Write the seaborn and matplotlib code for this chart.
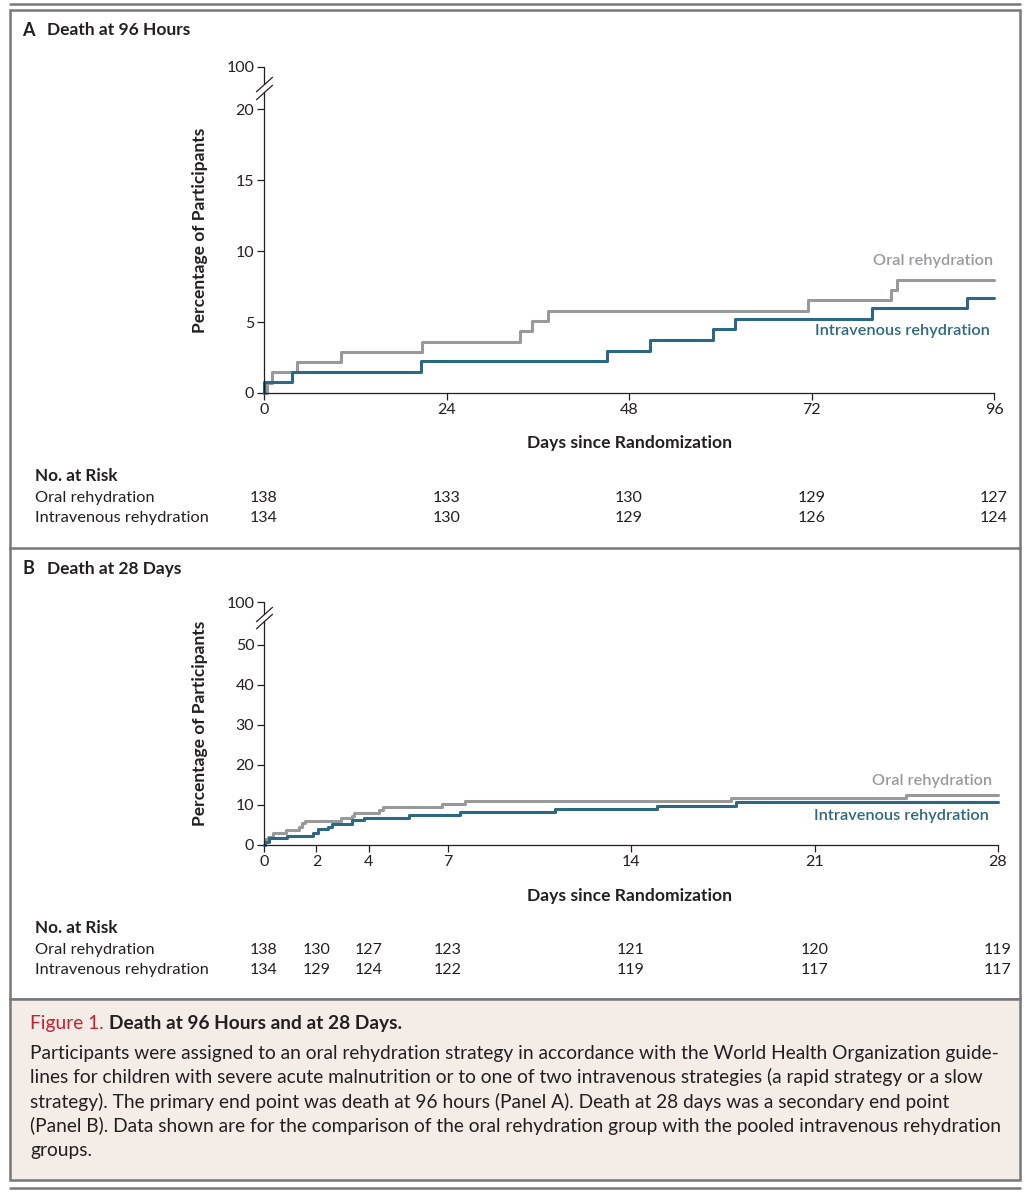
import matplotlib
matplotlib.use("Agg")
import matplotlib.pyplot as plt
import matplotlib.transforms as mtransforms
from matplotlib.patches import Rectangle
from matplotlib.lines import Line2D
import seaborn as sns
import pandas as pd

# Panel A - death at 96 hours (cumulative %)
hours_oral = [0, 0.4, 1.05, 4.4, 10.1, 20.8, 33.6, 35.3, 37.4, 71.5, 82.4, 83.3, 96]
pct_oral_a = [0, 0.72, 1.45, 2.17, 2.9, 3.62, 4.35, 5.07, 5.8, 6.52, 7.25, 7.97, 7.97]
hours_iv = [0, 0, 3.7, 20.7, 45.1, 50.7, 59.1, 61.9, 80.0, 92.4, 96]
pct_iv_a = [0, 0.75, 1.49, 2.24, 2.99, 3.73, 4.48, 5.22, 5.97, 6.72, 6.72]

# Panel B - death at 28 days
days_oral = [0, 0.05, 0.15, 0.35, 0.85, 1.35, 1.45, 1.55, 2.95, 3.35, 3.45, 4.4, 4.55, 6.8, 7.65, 17.8, 24.5, 28]
pct_oral_b = [0, 1.4, 2.1, 2.9, 3.75, 4.6, 5.4, 6.0, 6.7, 7.3, 8.1, 8.75, 9.4, 10.2, 11.1, 11.7, 12.5, 12.5]
days_iv = [0, 0.04, 0.2, 0.87, 1.88, 2.07, 2.43, 2.58, 3.37, 3.83, 5.53, 7.48, 11.1, 15.0, 18.0, 28]
pct_iv_b = [0, 0.8, 1.7, 2.3, 3.1, 3.9, 4.6, 5.3, 6.2, 6.8, 7.5, 8.3, 9.1, 9.8, 10.7, 10.7]

# number at risk
risk_times_a = [0, 24, 48, 72, 96]
risk_oral_a = [138, 133, 130, 129, 127]
risk_iv_a = [134, 130, 129, 126, 124]
risk_times_b = [0, 2, 4, 7, 14, 21, 28]
risk_oral_b = [138, 130, 127, 123, 121, 120, 119]
risk_iv_b = [134, 129, 124, 122, 119, 117, 117]

yticks_a = [0, 5, 10, 15, 20]
yticks_b = [0, 10, 20, 30, 40, 50]

groups = ["Oral rehydration", "Intravenous rehydration"]
GRAY = "#98999b"
BLUE = "#2c6880"
DARK = "#231f20"
BORDER = "#77787a"

W, H = 1025, 1195

sns.set_style("ticks")
plt.rcParams['font.family'] = ['Lato', 'DejaVu Sans']
plt.rcParams['axes.linewidth'] = 0.9

fig = plt.figure(figsize=(W / 100, H / 100), dpi=100)


def fx(x):
    return x / W


def fy(y):
    return 1 - y / H


def make_df(x1, y1, x2, y2):
    d1 = pd.DataFrame({"t": x1, "pct": y1, "group": groups[0]})
    d2 = pd.DataFrame({"t": x2, "pct": y2, "group": groups[1]})
    return pd.concat([d1, d2], ignore_index=True)


def draw_panel(top_px, bottom_px, right_px, df, xticks, yticks, ytop, brk,
               risk_t, risk_o, risk_i, letter, title, txt_y):
    ax = fig.add_axes([fx(264), fy(bottom_px), fx(right_px - 264), (bottom_px - top_px) / H])
    sns.lineplot(data=df, x="t", y="pct", hue="group", palette=[GRAY, BLUE],
                 estimator=None, sort=False, drawstyle="steps-post",
                 linewidth=2.2, legend=False, ax=ax, clip_on=False)
    ax.set_xlim(0, xticks[-1])
    ax.set_ylim(0, ytop)
    ax.set_xticks(xticks)
    ax.set_yticks(yticks + [ytop])
    ax.set_yticklabels([str(v) for v in yticks] + ["100"])
    ax.tick_params(direction="out", length=5, width=0.9, colors=DARK,
                   labelsize=11.5, pad=2)
    sns.despine(ax=ax)
    for s in ["left", "bottom"]:
        ax.spines[s].set_color(DARK)
    ax.set_xlabel("")
    ax.set_ylabel("")

    # broken y axis
    ax.spines["left"].set_bounds(0, brk[0])
    ax.plot([0, 0], [brk[1], ytop], color=DARK, lw=0.9, clip_on=False)
    ax.plot([0, 0], brk, linestyle="none", marker=[(-1, -0.9), (1, 0.9)],
            markersize=12, mec=DARK, mew=0.9, clip_on=False)

    # headers / labels
    fig.text(fx(22), fy(txt_y["head"]), letter,
             fontsize=13, fontweight="bold", color=DARK, va="center")
    fig.text(fx(47), fy(txt_y["head"]), title,
             fontsize=12.5, fontweight="bold", color=DARK, va="center")
    fig.text(fx(200), fy((top_px + bottom_px) / 2), "Percentage of Participants",
             rotation=90, fontsize=12.5, fontweight="bold", color=DARK,
             ha="center", va="center")
    fig.text(fx(630), fy(txt_y["xlabel"]), "Days since Randomization",
             fontsize=12.6, fontweight="bold", color=DARK, ha="center", va="center")

    fig.text(fx(txt_y["lab_x"][0]), fy(txt_y["oral"]), groups[0], color=GRAY,
             fontsize=11.7, fontweight="semibold", ha="right", va="center")
    fig.text(fx(txt_y["lab_x"][1]), fy(txt_y["iv"]), groups[1], color=BLUE,
             fontsize=11.7, fontweight="semibold", ha="right", va="center")

    # at-risk table
    fig.text(fx(35), fy(txt_y["risk"]), "No. at Risk", fontsize=12.3,
             fontweight="bold", color=DARK, va="center")
    fig.text(fx(35), fy(txt_y["risk"] + 22), groups[0], fontsize=11.8, color=DARK, va="center")
    fig.text(fx(35), fy(txt_y["risk"] + 42), groups[1], fontsize=11.8, color=DARK, va="center")
    trans = mtransforms.blended_transform_factory(ax.transData, fig.transFigure)
    for t, o, i in zip(risk_t, risk_o, risk_i):
        ax.text(t, fy(txt_y["risk"] + 22), str(o), transform=trans, fontsize=11.5,
                color=DARK, ha="center", va="center")
        ax.text(t, fy(txt_y["risk"] + 42), str(i), transform=trans, fontsize=11.5,
                color=DARK, ha="center", va="center")
    return ax


df_a = make_df(hours_oral, pct_oral_a, hours_iv, pct_iv_a)
df_b = make_df(days_oral, pct_oral_b, days_iv, pct_iv_b)

draw_panel(67, 393, 994, df_a, risk_times_a, yticks_a, 22.96, [21.2, 21.75],
           risk_times_a, risk_oral_a, risk_iv_a, "A", "Death at 96 Hours",
           {"head": 30, "xlabel": 443, "oral": 261, "iv": 331, "risk": 476, "lab_x": (993, 990)})
draw_panel(602, 845, 998, df_b, risk_times_b, yticks_b, 60.75, [56.0, 57.8],
           risk_times_b, risk_oral_b, risk_iv_b, "B", "Death at 28 Days",
           {"head": 569, "xlabel": 896, "oral": 781, "iv": 816, "risk": 928, "lab_x": (992, 989)})

# frames
def hline(y, x0=10, x1=1020, lw=1.8):
    fig.add_artist(Line2D([fx(x0), fx(x1)], [fy(y), fy(y)], color=BORDER, lw=lw,
                          transform=fig.transFigure))

fig.add_artist(Rectangle((fx(10), fy(999)), fx(1010), (999 - 10) / H, fill=False,
                         ec=BORDER, lw=1.8, transform=fig.transFigure))
hline(548)
hline(4)
fig.add_artist(Rectangle((fx(10), fy(1180)), fx(1010), (1180 - 999) / H,
                         fc="#f3ece7", ec=BORDER, lw=1.8, transform=fig.transFigure))
hline(1188)

# caption
cap_font = ['Lato', 'DejaVu Sans']
t1 = fig.text(fx(30), fy(1024), "Figure 1.", color="#c8202f", fontsize=13.8,
              family=cap_font, va="center")
fig.canvas.draw()
bb = t1.get_window_extent()
fig.text((bb.x1 + 5) / W, fy(1024), "Death at 96 Hours and at 28 Days.",
         color=DARK, fontsize=13.8, fontweight="bold", family=cap_font, va="center")

caption_lines = [
    "Participants were assigned to an oral rehydration strategy in accordance with the World Health Organization guide-",
    "lines for children with severe acute malnutrition or to one of two intravenous strategies (a rapid strategy or a slow",
    "strategy). The primary end point was death at 96 hours (Panel A). Death at 28 days was a secondary end point",
    "(Panel B). Data shown are for the comparison of the oral rehydration group with the pooled intravenous rehydration",
    "groups.",
]
for k, line in enumerate(caption_lines):
    fig.text(fx(30), fy(1053 + 24.3 * k), line, color=DARK, fontsize=13.8,
             family=cap_font, va="center")

fig.savefig("out.png", dpi=100)
